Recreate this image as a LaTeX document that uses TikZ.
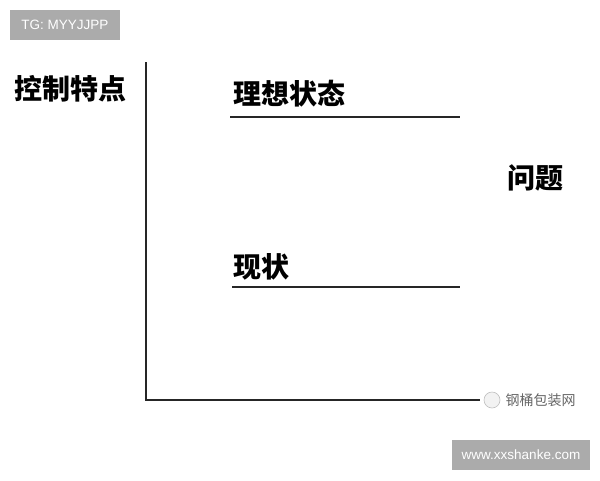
\documentclass[tikz,border=0pt]{standalone}
\usepackage{fontspec}
\setmainfont{Liberation Sans}
\newfontfamily\cjk{Noto Sans CJK SC}
\usetikzlibrary{positioning}

\begin{document}
\begin{tikzpicture}[x=1pt,y=-1pt,semithick]
        \tikzstyle{label}=[font=\cjk\bfseries\fontsize{28}{28}\selectfont, text=black, inner sep=0pt]
        \tikzstyle{tag}=[fill=black!33, text=white, font=\fontsize{13.5}{13.5}\selectfont, inner sep=0pt]
        \tikzstyle{level}=[line width=1.4pt, black!85]
        \useasboundingbox[fill=white] (0,0) rectangle (600,480);

        % corner tags
        \node[tag, minimum width=110pt, minimum height=30pt] (tg)  at (65,25)   {TG: MYYJJPP};
        \node[tag, minimum width=138pt, minimum height=30pt] (web) at (521,455) {www.xxshanke.com};

        % axes
        \coordinate (top)    at (146,62);
        \coordinate (origin) at (146,400);
        \coordinate (right)  at (480,400);
        \draw[line width=1.4pt, black!85] (top) -- (origin) -- (right);

        \node[label] (axis)  at (70,89)  {控制特点};
        \node[label] (ideal) at (289,94) {理想状态};
        \node[label] (now)   at (261,267) {现状};
        \node[label] (prob)  at (535,178) {问题};

        % levels
        \coordinate (i1) at (230,117); \coordinate (i2) at (460,117);
        \coordinate (n1) at (232,287); \coordinate (n2) at (460,287);
        \draw[level] (i1) -- (i2);
        \draw[level] (n1) -- (n2);

        % watermark
        \node[circle, draw=black!25, fill=black!5, minimum size=16pt, inner sep=0pt] (logo) at (492,400) {};
        \node[font=\cjk\fontsize{14}{14}\selectfont, text=black!60, inner sep=0pt, right=5pt of logo] (mark) {钢桶包装网};
\end{tikzpicture}
\end{document}
